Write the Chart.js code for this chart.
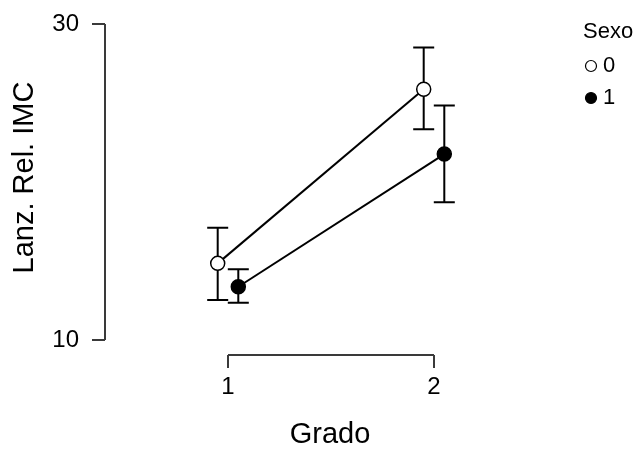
<!DOCTYPE html>
<html>
<head>
<meta charset="utf-8">
<script src="https://cdn.jsdelivr.net/npm/chart.js@4"></script>
<style>
  html, body { margin: 0; padding: 0; background: #fff; }
  #wrap { width: 643px; height: 449px; }
</style>
</head>
<body>
<div id="wrap"><canvas id="plot" width="643" height="449"></canvas></div>
<script>
// datos
const grado = [1, 2];
const sexoTitulo = 'Sexo';
const sexoLabels = ['0', '1'];
const sexo0Media = [14.85, 25.87];
const sexo0Inf = [12.53, 23.34];
const sexo0Sup = [17.11, 28.52];
const sexo1Media = [13.37, 21.77];
const sexo1Inf = [12.36, 18.72];
const sexo1Sup = [14.47, 24.85];
const xTicks = [1, 2];
const yTicks = [10, 30];

const FONT = '"Liberation Sans", Arial, sans-serif';
const dodge = 0.05;       // desplazamiento horizontal de cada grupo
const pxPorGrado = 206;   // escala horizontal en px

function puntos(medias, desplaz) {
    return grado.map((g, i) => ({ x: g + desplaz, y: medias[i] }));
}

// barras de error (dibujadas antes que los puntos)
const errorBars = {
    id: 'errorBars',
    beforeDatasetsDraw(chart) {
        const { ctx, scales: { x, y } } = chart;
        const series = [
            { inf: sexo0Inf, sup: sexo0Sup, d: -dodge },
            { inf: sexo1Inf, sup: sexo1Sup, d: dodge }
        ];
        ctx.save();
        ctx.strokeStyle = '#000';
        ctx.lineWidth = 2;
        series.forEach(s => {
            grado.forEach((g, i) => {
                const px = x.getPixelForValue(g + s.d);
                const y1 = y.getPixelForValue(s.inf[i]);
                const y2 = y.getPixelForValue(s.sup[i]);
                ctx.beginPath();
                ctx.moveTo(px, y1); ctx.lineTo(px, y2);
                ctx.moveTo(px - 10.5, y1); ctx.lineTo(px + 10.5, y1);
                ctx.moveTo(px - 10.5, y2); ctx.lineTo(px + 10.5, y2);
                ctx.stroke();
            });
        });
        ctx.restore();
    }
};

// ejes tipo "range frame"
const rangeFrame = {
    id: 'rangeFrame',
    afterDraw(chart) {
        const { ctx, scales: { x, y }, chartArea } = chart;
        ctx.save();
        ctx.strokeStyle = '#3a3a3a';
        ctx.lineWidth = 2;
        const yx = chartArea.left;
        const y10 = y.getPixelForValue(yTicks[0]);
        const y30 = y.getPixelForValue(yTicks[yTicks.length - 1]);
        ctx.beginPath();
        ctx.moveTo(yx, y10); ctx.lineTo(yx, y30);
        yTicks.forEach(v => {
            const p = y.getPixelForValue(v);
            ctx.moveTo(yx - 13, p); ctx.lineTo(yx, p);
        });
        ctx.stroke();

        const xy = chartArea.bottom;
        const x1 = x.getPixelForValue(xTicks[0]);
        const x2 = x.getPixelForValue(xTicks[xTicks.length - 1]);
        ctx.beginPath();
        ctx.moveTo(x1, xy); ctx.lineTo(x2, xy);
        xTicks.forEach(v => {
            const p = x.getPixelForValue(v);
            ctx.moveTo(p, xy); ctx.lineTo(p, xy + 13);
        });
        ctx.stroke();
        ctx.restore();
    }
};

// leyenda a la derecha, fuera del area del grafico
const leyenda = {
    id: 'leyenda',
    afterDraw(chart) {
        const ctx = chart.ctx;
        ctx.save();
        ctx.font = '22px ' + FONT;
        ctx.fillStyle = '#000';
        ctx.textAlign = 'left';
        ctx.textBaseline = 'middle';
        ctx.fillText(sexoTitulo, 583, 32);
        chart.data.datasets.forEach((ds, i) => {
            const cy = 66 + i * 32;
            ctx.beginPath();
            ctx.arc(591, cy, 5.5, 0, Math.PI * 2);
            ctx.fillStyle = ds.pointBackgroundColor;
            ctx.fill();
            ctx.lineWidth = 1.2;
            ctx.strokeStyle = ds.pointBorderColor;
            ctx.stroke();
            ctx.fillStyle = '#000';
            ctx.fillText(ds.label, 603, cy);
        });
        ctx.restore();
    }
};

new Chart(document.getElementById('plot'), {
    type: 'line',
    data: {
        datasets: [
            {
                label: sexoLabels[0],
                data: puntos(sexo0Media, -dodge),
                borderColor: '#000',
                borderWidth: 2,
                pointRadius: 7,
                pointBorderWidth: 1.5,
                pointBackgroundColor: '#fff',
                pointBorderColor: '#000'
            },
            {
                label: sexoLabels[1],
                data: puntos(sexo1Media, dodge),
                borderColor: '#000',
                borderWidth: 2,
                pointRadius: 7,
                pointBorderWidth: 1.5,
                pointBackgroundColor: '#000',
                pointBorderColor: '#000'
            }
        ]
    },
    options: {
        responsive: false,
        animation: false,
        layout: { autoPadding: false, padding: { left: 0, top: 0, bottom: 0, right: 88 } },
        plugins: {
            tooltip: { enabled: false },
            legend: { display: false }
        },
        scales: {
            x: {
                type: 'linear',
                grid: { display: false },
                border: { display: false },
                afterFit(s) { s.height = 94; },
                afterBuildTicks(s) {
                    s.min = 1 - 123 / pxPorGrado;
                    s.max = s.min + s.width / pxPorGrado;
                    s.ticks = xTicks.map(v => ({ value: v }));
                },
                ticks: {
                    color: '#000',
                    padding: 10,
                    font: { family: FONT, size: 24 },
                    callback: v => String(v)
                },
                title: {
                    display: true,
                    text: 'Grado',
                    color: '#000',
                    font: { family: FONT, size: 29, lineHeight: 1 },
                    padding: { top: 0, bottom: 0 }
                }
            },
            y: {
                min: 9.05,
                max: 31.52,
                grid: { display: false },
                border: { display: false },
                afterFit(s) {
                    s.width = 105;
                    s.paddingTop = 0;
                    s.paddingBottom = 0;
                },
                afterBuildTicks(s) {
                    s.ticks = yTicks.map(v => ({ value: v }));
                },
                ticks: {
                    color: '#000',
                    padding: 18,
                    font: { family: FONT, size: 24 },
                    callback: v => String(v)
                },
                title: {
                    display: true,
                    text: 'Lanz. Rel. IMC',
                    color: '#000',
                    font: { family: FONT, size: 29 },
                    padding: { top: 8, bottom: 0 }
                }
            }
        }
    },
    plugins: [errorBars, rangeFrame, leyenda]
});
</script>
</body>
</html>
